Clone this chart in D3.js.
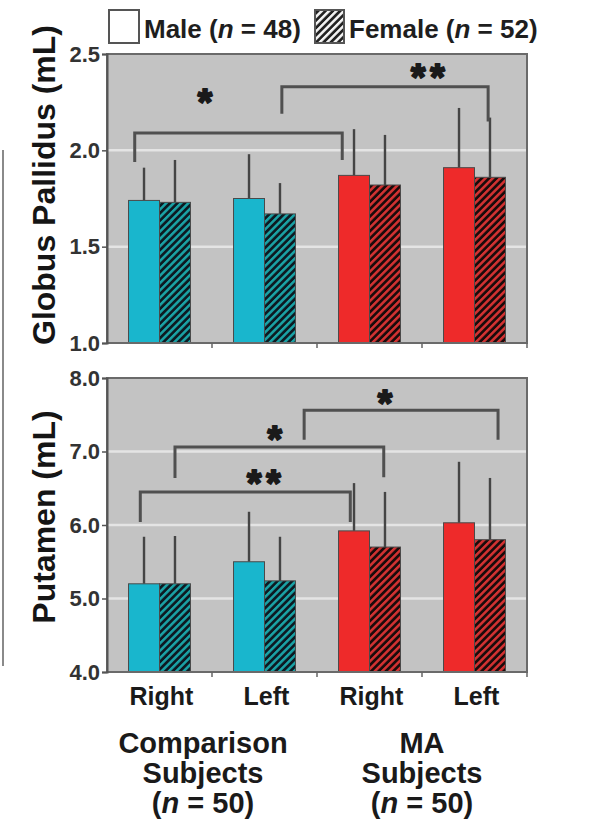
<!DOCTYPE html>
<html>
<head>
<meta charset="utf-8">
<script src="https://cdn.jsdelivr.net/npm/d3@7/dist/d3.min.js"></script>
<style>
  html, body { margin: 0; padding: 0; background: #fff; }
  svg { display: block; }
  text { font-family: "Liberation Sans", Arial, Helvetica, sans-serif; font-weight: bold; }
</style>
</head>
<body>
<svg id="chart" width="589" height="822"></svg>
<script>
// Bars: hemisphere within each subject group
const barKeys = ["CR", "CL", "MR", "ML"];
const sideLabels = ["Right", "Left", "Right", "Left"];
const groupOf = ["Comparison", "Comparison", "MA", "MA"];
const groupLabels = [["Comparison", "Subjects", "(n = 50)"], ["MA", "Subjects", "(n = 50)"]];
const sexes = ["Male", "Female"];

// Globus pallidus volume (mL), mean and SD
const pallidusMale = [1.74, 1.75, 1.87, 1.91];
const pallidusMaleSD = [0.17, 0.23, 0.24, 0.31];
const pallidusFemale = [1.73, 1.67, 1.82, 1.86];
const pallidusFemaleSD = [0.22, 0.16, 0.26, 0.31];
const pallidusTicks = [1.0, 1.5, 2.0, 2.5];

// Putamen volume (mL), mean and SD
const putamenMale = [5.20, 5.50, 5.92, 6.03];
const putamenMaleSD = [0.64, 0.68, 0.65, 0.83];
const putamenFemale = [5.20, 5.24, 5.70, 5.80];
const putamenFemaleSD = [0.65, 0.60, 0.75, 0.84];
const putamenTicks = [4.0, 5.0, 6.0, 7.0, 8.0];

// Significance brackets: bars joined, bracket level and leg ends (mL), marker
const pallidusBrackets = [
  { from: "CR", fromAt: 0.10, to: "MR", toAt: 0.06, level: 2.09, legFrom: 1.94, legTo: 1.95, mark: "*", markAt: 0.35, markLift: 36 },
  { from: "CL", fromAt: 0.78, to: "ML", toAt: 0.72, level: 2.33, legFrom: 2.19, legTo: 2.15, mark: "**", markAt: 0.72, markLift: 15 }
];
const putamenBrackets = [
  { from: "CL", fromAt: 1.14, to: "ML", toAt: 0.88, level: 7.56, legFrom: 7.16, legTo: 7.16, mark: "*", markAt: 0.43, markLift: 12 },
  { from: "CR", fromAt: 0.75, to: "MR", toAt: 0.73, level: 7.06, legFrom: 6.64, legTo: 6.65, mark: "*", markAt: 0.49, markLift: 13 },
  { from: "CR", fromAt: 0.19, to: "MR", toAt: 0.19, level: 6.45, legFrom: 6.04, legTo: 6.04, mark: "**", markAt: 0.6, markLift: 14 }
];

const colors = {
  Comparison: { solid: "#19b6cd", stripe: "#1aa3a6" },
  MA: { solid: "#ee2a2a", stripe: "#d43232" }
};

const svg = d3.select("#chart");
const defs = svg.append("defs");

function hatch(id, bg, stripe) {
  const p = defs.append("pattern")
    .attr("id", id)
    .attr("patternUnits", "userSpaceOnUse")
    .attr("width", 5.2).attr("height", 5.2)
    .attr("patternTransform", "rotate(45)");
  p.append("rect").attr("width", 5.2).attr("height", 5.2).attr("fill", bg);
  p.append("rect").attr("width", 2.5).attr("height", 5.2).attr("fill", stripe);
}
hatch("hatch-Comparison", "#0d1a22", colors.Comparison.stripe);
hatch("hatch-MA", "#1a0b0b", colors.MA.stripe);
hatch("hatch-legend", "#222", "#f4f4f4");

const plotLeft = 107, plotRight = 527;

const x = d3.scaleBand()
  .domain(barKeys)
  .range([plotLeft, plotRight])
  .paddingInner(0.41)
  .paddingOuter(0.205);

const xSex = d3.scaleBand()
  .domain(sexes)
  .range([0, x.bandwidth()]);

function panel(cfg) {
  const y = d3.scaleLinear().domain(cfg.domain).range([cfg.bottom, cfg.top]);
  const g = svg.append("g");

  // plot background
  g.append("rect")
    .attr("x", plotLeft).attr("y", cfg.top)
    .attr("width", plotRight - plotLeft).attr("height", cfg.bottom - cfg.top)
    .attr("fill", "#c3c3c3");

  // light gridlines
  g.selectAll("line.grid")
    .data(cfg.ticks.slice(1, -1))
    .join("line")
    .attr("class", "grid")
    .attr("x1", plotLeft + 1).attr("x2", plotRight - 1)
    .attr("y1", d => y(d)).attr("y2", d => y(d))
    .attr("stroke", "#e4e4e4").attr("stroke-width", 2.5);

  // bars
  const rows = [];
  barKeys.forEach((k, i) => {
    rows.push({ key: k, sex: "Male", v: cfg.male[i], sd: cfg.maleSD[i], grp: groupOf[i] });
    rows.push({ key: k, sex: "Female", v: cfg.female[i], sd: cfg.femaleSD[i], grp: groupOf[i] });
  });

  // error whiskers (upper only)
  g.selectAll("line.err")
    .data(rows)
    .join("line")
    .attr("class", "err")
    .attr("x1", d => x(d.key) + xSex(d.sex) + xSex.bandwidth() / 2)
    .attr("x2", d => x(d.key) + xSex(d.sex) + xSex.bandwidth() / 2)
    .attr("y1", d => y(d.v))
    .attr("y2", d => y(d.v + d.sd))
    .attr("stroke", "#454545").attr("stroke-width", 2.4);

  g.selectAll("rect.bar")
    .data(rows)
    .join("rect")
    .attr("class", "bar")
    .attr("x", d => x(d.key) + xSex(d.sex))
    .attr("width", xSex.bandwidth())
    .attr("y", d => y(d.v))
    .attr("height", d => y(cfg.domain[0]) - y(d.v))
    .attr("fill", d => d.sex === "Male" ? colors[d.grp].solid : `url(#hatch-${d.grp})`)
    .attr("stroke", "#4a4a4a").attr("stroke-width", 1);

  // frame
  g.append("rect")
    .attr("x", plotLeft).attr("y", cfg.top)
    .attr("width", plotRight - plotLeft).attr("height", cfg.bottom - cfg.top)
    .attr("fill", "none").attr("stroke", "#6a6a6a").attr("stroke-width", 2);

  // y axis
  const yAxis = d3.axisLeft(y)
    .tickValues(cfg.ticks)
    .tickFormat(d3.format(".1f"))
    .tickSize(5)
    .tickPadding(2);
  const ya = g.append("g").attr("transform", `translate(${plotLeft},0)`).call(yAxis);
  ya.select(".domain").attr("stroke", "#555").attr("stroke-width", 2);
  ya.selectAll(".tick line").attr("stroke", "#555").attr("stroke-width", 1.5);
  ya.selectAll(".tick text")
    .attr("font-size", 22).attr("font-weight", "bold")
    .attr("font-family", "'Liberation Sans', Arial, sans-serif")
    .attr("fill", "#333");

  // x ticks at the band boundaries
  const gap = x.step() - x.bandwidth();
  const bounds = barKeys.slice(1).map(k => x(k) - gap / 2).concat([plotRight]);
  g.selectAll("line.xtick")
    .data(bounds)
    .join("line")
    .attr("class", "xtick")
    .attr("x1", d => d).attr("x2", d => d)
    .attr("y1", cfg.bottom).attr("y2", cfg.bottom + 5)
    .attr("stroke", "#666").attr("stroke-width", 1.5);

  // significance brackets
  cfg.brackets.forEach(b => {
    const x1 = x(b.from) + b.fromAt * x.bandwidth();
    const x2 = x(b.to) + b.toAt * x.bandwidth();
    const yl = y(b.level);
    g.append("path")
      .attr("d", `M${x1},${y(b.legFrom)}V${yl}H${x2}V${y(b.legTo)}`)
      .attr("fill", "none").attr("stroke", "#505050").attr("stroke-width", 3);
    const mx = x1 + b.markAt * (x2 - x1);
    g.append("text")
      .attr("x", mx)
      .attr("y", yl - b.markLift + 18)
      .attr("text-anchor", "middle")
      .attr("font-family", "'DejaVu Sans', sans-serif")
      .attr("font-weight", "bold")
      .attr("font-size", 37)
      .attr("letter-spacing", 5)
      .attr("fill", "#1a1a1a")
      .attr("stroke", "#1a1a1a")
      .attr("stroke-width", 2)
      .attr("stroke-linejoin", "round")
      .text(b.mark);
  });

  // y title
  svg.append("text")
    .attr("transform", `translate(55,${cfg.titleY}) rotate(-90)`)
    .attr("text-anchor", "middle")
    .attr("font-size", 32)
    .attr("fill", "#151515")
    .text(cfg.title);

  return y;
}

panel({
  domain: [1.0, 2.5], ticks: pallidusTicks, top: 54, bottom: 343,
  male: pallidusMale, maleSD: pallidusMaleSD, female: pallidusFemale, femaleSD: pallidusFemaleSD,
  brackets: pallidusBrackets, title: "Globus Pallidus (mL)", titleY: 185
});

panel({
  domain: [4.0, 8.0], ticks: putamenTicks, top: 378, bottom: 672,
  male: putamenMale, maleSD: putamenMaleSD, female: putamenFemale, femaleSD: putamenFemaleSD,
  brackets: putamenBrackets, title: "Putamen (mL)", titleY: 517
});

// hemisphere labels
svg.selectAll("text.side")
  .data(barKeys)
  .join("text")
  .attr("class", "side")
  .attr("x", d => x(d) + x.bandwidth() / 2 + 2)
  .attr("y", 705)
  .attr("text-anchor", "middle")
  .attr("font-size", 25)
  .attr("fill", "#1a1a1a")
  .text((d, i) => sideLabels[i]);

// subject-group labels
const groupCenters = [
  (x("CR") + x("CL") + x.bandwidth()) / 2 - 9,
  (x("MR") + x("ML") + x.bandwidth()) / 2
];
groupLabels.forEach((lines, gi) => {
  lines.forEach((line, li) => {
    const t = svg.append("text")
      .attr("x", groupCenters[gi])
      .attr("y", 753 + li * 30)
      .attr("text-anchor", "middle")
      .attr("font-size", 29)
      .attr("fill", "#1a1a1a");
    const m = line.match(/^\((n)( = .*)$/);
    if (m) {
      t.append("tspan").text("(");
      t.append("tspan").attr("font-style", "italic").text("n");
      t.append("tspan").text(m[2]);
    } else {
      t.text(line);
    }
  });
});

// legend
const legend = svg.append("g");
legend.append("rect").attr("x", 109).attr("y", 10).attr("width", 30).attr("height", 33)
  .attr("fill", "#fff").attr("stroke", "#555").attr("stroke-width", 2);
const lt1 = legend.append("text").attr("x", 144).attr("y", 38).attr("font-size", 26).attr("fill", "#1e1e1e");
lt1.append("tspan").text("Male (");
lt1.append("tspan").attr("font-style", "italic").text("n");
lt1.append("tspan").text(" = 48)");
legend.append("rect").attr("x", 315).attr("y", 10).attr("width", 29).attr("height", 33)
  .attr("fill", "url(#hatch-legend)").attr("stroke", "#555").attr("stroke-width", 2);
const lt2 = legend.append("text").attr("x", 349).attr("y", 38).attr("font-size", 26).attr("fill", "#1e1e1e");
lt2.append("tspan").text("Female (");
lt2.append("tspan").attr("font-style", "italic").text("n");
lt2.append("tspan").text(" = 52)");

// vertical rule at the left edge
svg.append("line")
  .attr("x1", 3).attr("x2", 3).attr("y1", 150).attr("y2", 666)
  .attr("stroke", "#8a8a8a").attr("stroke-width", 2);
</script>
</body>
</html>
